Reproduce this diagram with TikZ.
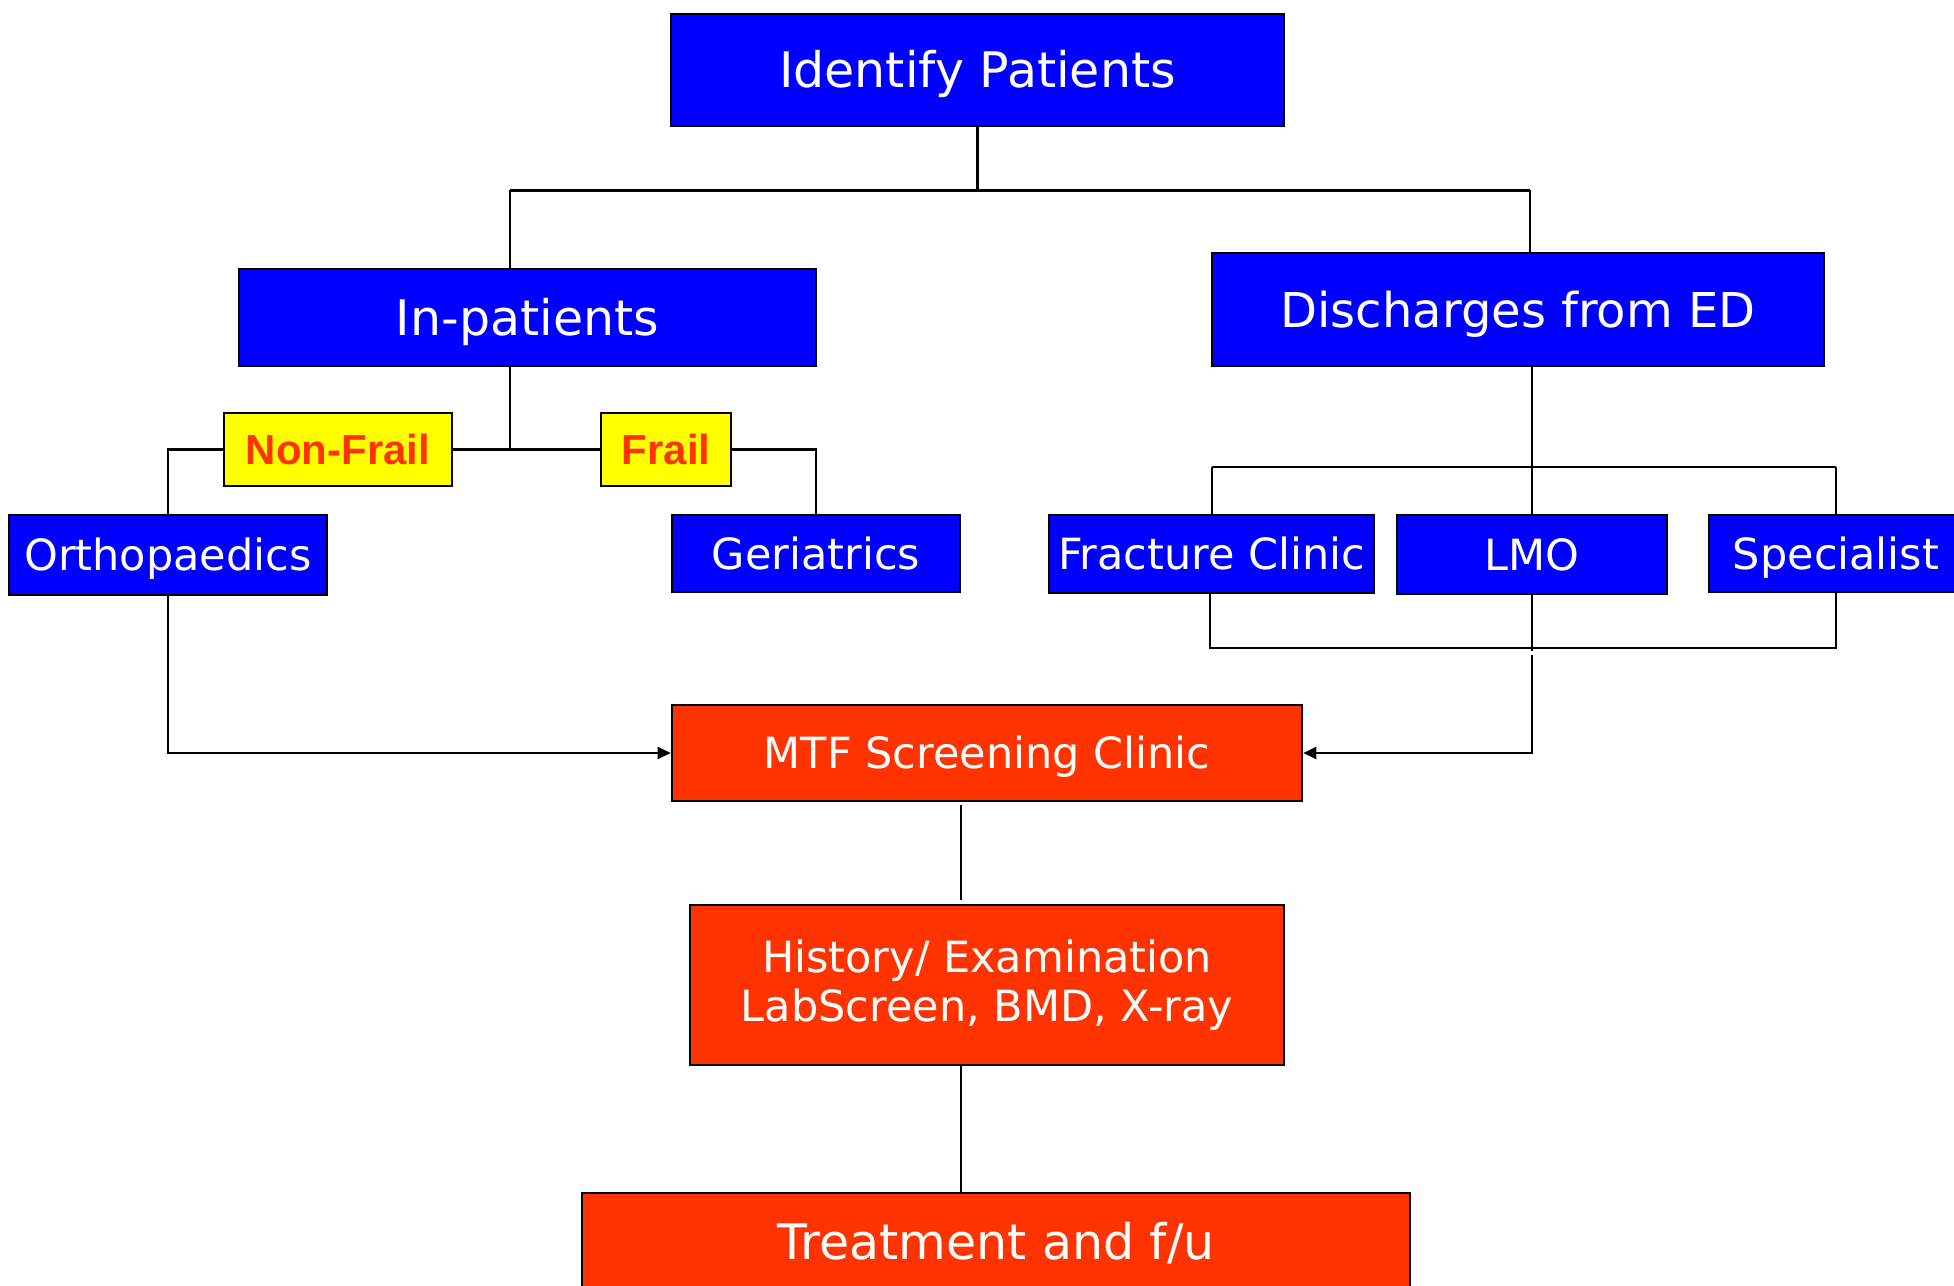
\documentclass[tikz,border=0pt]{standalone}
\usepackage{fontspec}
\setmainfont{DejaVu Sans}
\newfontfamily\arialfont{Liberation Sans}
\usetikzlibrary{arrows.meta,calc}
\definecolor{boxblue}{HTML}{0000FF}
\definecolor{boxred}{HTML}{FF3300}
\definecolor{boxyellow}{HTML}{FFFF00}
\begin{document}
\begin{tikzpicture}[x=1pt,y=-1pt,
  basebox/.style={draw=black, line width=2.6pt, inner sep=0pt, align=center, text depth=0pt},
  bluebox/.style={basebox, fill=boxblue, text=white},
  redbox/.style={basebox, fill=boxred, text=white},
  yellowbox/.style={basebox, fill=boxyellow, text=boxred, text height=30pt,
    font=\arialfont\bfseries\fontsize{42}{48}\selectfont},
  big/.style={font=\fontsize{49}{58}\selectfont, text height=35.8pt},
  mid/.style={font=\fontsize{48}{58}\selectfont, text height=35pt},
  small/.style={font=\fontsize{43}{50}\selectfont, text height=31.4pt},
  conn/.style={draw=black, line width=2.2pt},
  arr/.style={conn, -{Triangle[length=13pt,width=12pt]}}
]
\useasboundingbox (0,0) rectangle (1954,1285);
\fill[white] (0,0) rectangle (1954,1285);

% nodes
\node[bluebox, big, minimum width=613pt, minimum height=112pt] (ident) at (977.5,70) {Identify Patients};
\node[bluebox, big, minimum width=577pt, minimum height=97pt] (inpat) at (527.5,317.5) {In-patients};
\node[bluebox, mid, minimum width=612pt, minimum height=113pt] (disch) at (1518,309.5) {Discharges from ED};
\node[yellowbox, minimum width=228pt, minimum height=73pt] (nonfrail) at (338,449.5) {Non-Frail};
\node[yellowbox, minimum width=130pt, minimum height=73pt] (frail) at (666,449.5) {Frail};
\node[bluebox, small, minimum width=318pt, minimum height=80pt] (ortho) at (168,555) {Orthopaedics};
\node[bluebox, small, minimum width=288pt, minimum height=77pt] (geri) at (816,553.5) {Geriatrics};
\node[bluebox, small, minimum width=325pt, minimum height=78pt] (fract) at (1211.5,554) {Fracture Clinic};
\node[bluebox, small, minimum width=270pt, minimum height=79pt] (lmo) at (1532,554.5) {LMO};
\node[bluebox, small, minimum width=254pt, minimum height=77pt] (spec) at (1836,553.5) {Specialist};
\node[redbox, small, minimum width=630pt, minimum height=96pt] (mtf) at (987,753) {MTF Screening Clinic};
\node[redbox, font=\fontsize{43}{49}\selectfont, text depth=, minimum width=594pt, minimum height=160pt] (hist) at (987,985) {History/ Examination\\LabScreen, BMD, X-ray};
\node[redbox, big, minimum width=828pt, minimum height=98pt] (treat) at (996,1242) {Treatment and f/u};

% top bus
\coordinate (b1l) at (510,190);
\coordinate (b1r) at (1530,190);
\draw[conn] (ident.south) -- (ident.south |- b1l);
\draw[conn, line width=3pt] (b1l) -- (b1r);
\draw[conn] (b1l) -- (b1l |- inpat.north);
\draw[conn] (b1r) -- (b1r |- disch.north);

% in-patients split
\coordinate (ip) at (510,449);
\draw[conn] (ip |- inpat.south) -- (ip);
\draw[conn] (nonfrail.east) -- (frail.west);
\draw[conn] (nonfrail.west) -| (ortho.north);
\draw[conn] (frail.east) -| (geri.north);

% discharges split
\coordinate (b2l) at (1212,467);
\coordinate (b2r) at (1836,467);
\draw[conn] (lmo.north |- disch.south) -- (lmo.north);
\draw[conn] (b2l) -- (b2r);
\draw[conn] (b2l) -- (b2l |- fract.north);
\draw[conn] (b2r) -- (b2r |- spec.north);

% lower bus
\coordinate (b3l) at (1210,648);
\coordinate (b3r) at (1836,648);
\draw[conn] (b3l |- fract.south) -- (b3l) -- (b3r) -- (b3r |- spec.south);
\draw[conn] (lmo.south) -- ($(lmo.south |- b3l)+(0,3)$);

% arrows to MTF
\draw[arr] (ortho.south) |- (mtf.west);
\coordinate (lmodown) at (1532,655);
\draw[arr] (lmodown) |- (mtf.east);

% lower chain
\coordinate (c1) at (961,805);
\coordinate (c2) at (961,900);
\draw[conn] (c1) -- (c2);
\draw[conn] (hist.south -| c1) -- (treat.north -| c1);
\end{tikzpicture}
\end{document}
